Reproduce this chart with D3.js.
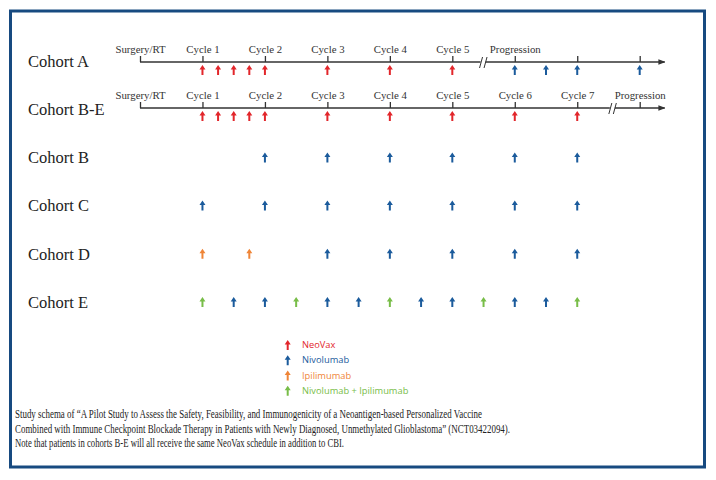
<!DOCTYPE html>
<html><head><meta charset="utf-8">
<script src="https://cdn.jsdelivr.net/npm/d3@7"></script>
<style>body{margin:0;background:#fff}svg{display:block}</style>
</head><body>
<svg id="c" width="716" height="480"></svg>
<script>
// ---- data ----
const cohorts = ["Cohort A", "Cohort B-E", "Cohort B", "Cohort C", "Cohort D", "Cohort E"];
const tickPosA = [0, 1, 2, 3, 4, 5, 6, 7, 8];
const tickLabelsA = ["Surgery/RT", "Cycle 1", "Cycle 2", "Cycle 3", "Cycle 4", "Cycle 5", "Progression", "", ""];
const tickPosBE = [0, 1, 2, 3, 4, 5, 6, 7, 8];
const tickLabelsBE = ["Surgery/RT", "Cycle 1", "Cycle 2", "Cycle 3", "Cycle 4", "Cycle 5", "Cycle 6", "Cycle 7", "Progression"];
const breakA = 5.5, breakBE = 7.57;
const drugs = ["NeoVax", "Nivolumab", "Ipilimumab", "Nivolumab + Ipilimumab"];
// dosing times (in cycles) per cohort and drug
const doseA_NeoVax = [1, 1.25, 1.5, 1.75, 2, 3, 4, 5];
const doseA_Nivo = [6, 6.5, 7, 8];
const doseBE_NeoVax = [1, 1.25, 1.5, 1.75, 2, 3, 4, 5, 6, 7];
const doseB_Nivo = [2, 3, 4, 5, 6, 7];
const doseC_Nivo = [1, 2, 3, 4, 5, 6, 7];
const doseD_Ipi = [1, 1.75];
const doseD_Nivo = [3, 4, 5, 6, 7];
const doseE_Combo = [1, 2.5, 4, 5.5, 7];
const doseE_Nivo = [1.5, 2, 3, 3.5, 4.5, 5, 6, 6.5];
const caption = [
  "Study schema of \u201cA Pilot Study to Assess the Safety, Feasibility, and Immunogenicity of a Neoantigen-based Personalized Vaccine",
  "Combined with Immune Checkpoint Blockade Therapy in Patients with Newly Diagnosed, Unmethylated Glioblastoma\u201d (NCT03422094).",
  "Note that patients in cohorts B-E will all receive the same NeoVax schedule in addition to CBI."
];

// ---- styling ----
const colors = d3.scaleOrdinal().domain(drugs).range(["#e2262b", "#1b5b9c", "#ef8537", "#78bd48"]);
const serif = "'Liberation Serif', 'Times New Roman', serif";
const sans = "'Open Sans', 'Noto Sans', sans-serif";

const svg = d3.select("#c");
svg.append("rect").attr("x", 10.5).attr("y", 11).attr("width", 694).attr("height", 456)
  .attr("fill", "#fff").attr("stroke", "#174a80").attr("stroke-width", 3);

const x = d3.scaleLinear().domain([0, 8]).range([140, 639.7]);
const y = d3.scalePoint().domain(cohorts).range([61, 302]);
const lineY = {"Cohort A": 62, "Cohort B-E": 108};

// cohort labels
svg.append("g").selectAll("text").data(cohorts).join("text")
  .attr("x", 28).attr("y", d => y(d)).attr("dy", "0.35em")
  .attr("font-family", serif).attr("font-size", 16.5).attr("fill", "#222")
  .text(d => d);

// arrow marker for timeline ends
svg.append("defs").append("marker").attr("id", "endarrow")
  .attr("viewBox", "0 0 10 10").attr("refX", 9).attr("refY", 5)
  .attr("markerWidth", 7).attr("markerHeight", 7).attr("markerUnits", "userSpaceOnUse")
  .attr("orient", "auto")
  .append("path").attr("d", "M0,1 L10,5 L0,9 Z").attr("fill", "#333");

function timeline(row, pos, labels, brk) {
  const ly = lineY[row];
  const g = svg.append("g").attr("transform", `translate(0,${ly})`);
  const axis = d3.axisTop(x).tickValues(pos).tickSizeOuter(0).tickSizeInner(6).tickPadding(3)
    .tickFormat((d, i) => labels[i]);
  g.call(axis);
  g.select(".domain").remove();
  g.selectAll(".tick line").attr("stroke", "#333").attr("stroke-width", 1.3);
  g.selectAll(".tick text").attr("font-family", serif).attr("font-size", 10.8).attr("fill", "#333");
  const xb = x(brk);
  g.append("line").attr("x1", x(0)).attr("x2", xb - 3).attr("y1", 0).attr("y2", 0)
    .attr("stroke", "#333").attr("stroke-width", 1.3);
  g.append("line").attr("x1", xb + 2).attr("x2", x(8.4)).attr("y1", 0).attr("y2", 0)
    .attr("stroke", "#333").attr("stroke-width", 1.3).attr("marker-end", "url(#endarrow)");
  [-2.5, 2].forEach(o => g.append("line")
    .attr("x1", xb + o - 1.5).attr("x2", xb + o + 1.5).attr("y1", 6).attr("y2", -5)
    .attr("stroke", "#333").attr("stroke-width", 1));
}
timeline("Cohort A", tickPosA, tickLabelsA, breakA);
timeline("Cohort B-E", tickPosBE, tickLabelsBE, breakBE);

function arrowPath(cx, cy, h) {
  const top = cy - h / 2, bot = cy + h / 2, hw = 3, sw = 1, hh = 4.5;
  return `M${cx},${top} L${cx + hw},${top + hh} L${cx + sw},${top + hh} L${cx + sw},${bot} L${cx - sw},${bot} L${cx - sw},${top + hh} L${cx - hw},${top + hh} Z`;
}

const doses = [
  {row: "Cohort A", drug: "NeoVax", t: doseA_NeoVax},
  {row: "Cohort A", drug: "Nivolumab", t: doseA_Nivo},
  {row: "Cohort B-E", drug: "NeoVax", t: doseBE_NeoVax},
  {row: "Cohort B", drug: "Nivolumab", t: doseB_Nivo},
  {row: "Cohort C", drug: "Nivolumab", t: doseC_Nivo},
  {row: "Cohort D", drug: "Ipilimumab", t: doseD_Ipi},
  {row: "Cohort D", drug: "Nivolumab", t: doseD_Nivo},
  {row: "Cohort E", drug: "Nivolumab + Ipilimumab", t: doseE_Combo},
  {row: "Cohort E", drug: "Nivolumab", t: doseE_Nivo}
].flatMap(s => s.t.map(t => ({row: s.row, drug: s.drug, t})));

svg.append("g").selectAll("path").data(doses).join("path")
  .attr("d", d => {
    const cy = lineY[d.row] !== undefined ? lineY[d.row] + 8 : y(d.row);
    return arrowPath(x(d.t), cy, 10);
  })
  .attr("fill", d => colors(d.drug));

// legend
const ly = d3.scalePoint().domain(drugs).range([345, 390.7]);
const leg = svg.append("g");
leg.selectAll("path").data(drugs).join("path")
  .attr("d", d => arrowPath(287.7, ly(d), 10)).attr("fill", d => colors(d));
leg.selectAll("text").data(drugs).join("text")
  .attr("x", 302).attr("y", d => ly(d)).attr("dy", "0.35em")
  .attr("font-family", sans).attr("font-size", 9.3).attr("fill", d => colors(d))
  .text(d => d);

// caption
const capW = [467, 495, 329];
svg.append("g").selectAll("text").data(caption).join("text")
  .attr("x", 15).attr("y", (d, i) => 418 + i * 14.5)
  .attr("font-family", serif).attr("font-size", 12).attr("fill", "#222")
  .attr("textLength", (d, i) => capW[i]).attr("lengthAdjust", "spacingAndGlyphs")
  .text(d => d);
</script>
</body></html>
